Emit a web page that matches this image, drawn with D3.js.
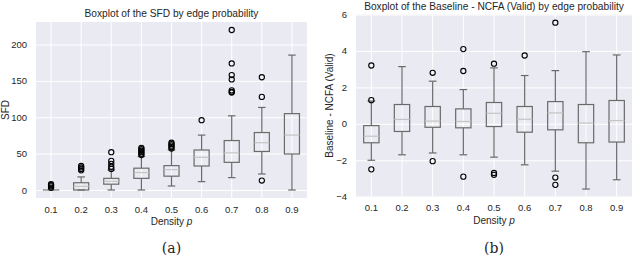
<!DOCTYPE html>
<html>
<head>
<meta charset="utf-8">
<script src="https://cdn.jsdelivr.net/npm/d3@7"></script>
<style>
  body { margin: 0; background: #fff; }
  svg text { font-family: "Liberation Sans", Arial, sans-serif; fill: #262626; }
</style>
</head>
<body>
<div id="graph"></div>
<script>
// edge probabilities (x categories)
const densities = ['0.1', '0.2', '0.3', '0.4', '0.5', '0.6', '0.7', '0.8', '0.9'];

// (a) SFD box stats
const sfdLo  = [0, 0, 0, 0, 5.5, 11.5, 17, 22, 0];
const sfdQ1  = [0, 0, 8, 16, 19, 33, 38, 53, 49.5];
const sfdMed = [0, 5, 12, 24, 28, 45, 51, 65, 75.5];
const sfdQ3  = [0.3, 10, 16, 30, 33.5, 55, 68, 79, 105];
const sfdHi  = [0, 18, 27.5, 46, 55, 75.5, 102, 113.5, 185.5];
const sfdOut = [
  [3, 5, 6.5, 8],
  [27, 29, 31, 33],
  [29, 32, 36, 40, 52],
  [48, 50, 52, 54, 56, 58],
  [57, 59, 61, 63, 65],
  [96],
  [134, 135, 137, 152, 158, 174, 220],
  [13, 128, 155],
  []
];
const sfdTicks = [0, 50, 100, 150, 200];

// (b) Baseline - NCFA (Valid) box stats
const difLo  = [-2.0, -1.7, -1.6, -1.7, -1.83, -2.25, -2.6, -3.58, -3.07];
const difQ1  = [-1.04, -0.42, -0.19, -0.22, -0.15, -0.46, -0.33, -1.04, -1.0];
const difMed = [-0.68, 0.24, 0.15, 0.13, 0.58, 0.25, 0.6, 0.04, 0.18];
const difQ3  = [-0.1, 1.06, 0.95, 0.82, 1.17, 0.95, 1.22, 1.06, 1.28];
const difHi  = [1.25, 3.14, 2.34, 1.88, 3.07, 2.65, 2.92, 3.96, 3.78];
const difOut = [
  [3.2, 1.3, -2.5],
  [],
  [2.8, -2.05],
  [4.1, 2.9, -2.9],
  [3.3, -2.7, -2.8],
  [3.75],
  [5.55, -2.95, -3.35],
  [],
  []
];
const difTicks = [-4, -2, 0, 2, 4, 6];

const svg = d3.select('#graph')
  .append('svg')
    .attr('width', 640)
    .attr('height', 274);

function panel(opt) {
  const x = d3.scaleBand()
    .domain(densities)
    .range([opt.left, opt.right]);

  const y = d3.scaleLinear()
    .domain(opt.domain)
    .range([opt.bottom, opt.top]);

  const g = svg.append('g');

  g.append('rect')
    .attr('x', opt.left)
    .attr('y', opt.top)
    .attr('width', opt.right - opt.left)
    .attr('height', opt.bottom - opt.top)
    .attr('fill', '#eaeaf2');

  // grid
  const gy = g.append('g')
    .attr('transform', `translate(${opt.left},0)`)
    .call(d3.axisLeft(y).tickValues(opt.ticks).tickSize(-(opt.right - opt.left)).tickFormat(''));
  const gx = g.append('g')
    .attr('transform', `translate(0,${opt.bottom})`)
    .call(d3.axisBottom(x).tickSize(-(opt.bottom - opt.top)).tickFormat(''));
  [gy, gx].forEach(a => {
    a.select('.domain').remove();
    a.selectAll('line').attr('stroke', '#fff').attr('stroke-width', 1);
  });

  // tick labels
  const ly = g.append('g')
    .attr('transform', `translate(${opt.left},0)`)
    .call(d3.axisLeft(y).tickValues(opt.ticks).tickSize(0).tickPadding(9));
  const lx = g.append('g')
    .attr('transform', `translate(0,${opt.bottom})`)
    .call(d3.axisBottom(x).tickSize(0).tickPadding(8));
  [ly, lx].forEach(a => {
    a.select('.domain').remove();
    a.selectAll('text').attr('font-size', 9.5).attr('fill', '#262626')
      .attr('font-family', '"Liberation Sans", Arial, sans-serif');
  });

  const half = x.bandwidth() * 0.25;
  const cap = x.bandwidth() * 0.125;
  const stroke = '#6a6a6a';

  const boxes = g.selectAll('.box')
    .data(densities.map((d, i) => ({
      d: d, lo: opt.lo[i], q1: opt.q1[i], med: opt.med[i],
      q3: opt.q3[i], hi: opt.hi[i], out: opt.out[i]
    })))
    .enter()
      .append('g')
      .attr('transform', (b) => `translate(${x(b.d) + x.bandwidth() / 2},0)`);

  // whiskers
  boxes.append('line')
    .attr('y1', (b) => y(b.q3)).attr('y2', (b) => y(b.hi))
    .attr('stroke', stroke).attr('stroke-width', 1.2);
  boxes.append('line')
    .attr('y1', (b) => y(b.q1)).attr('y2', (b) => y(b.lo))
    .attr('stroke', stroke).attr('stroke-width', 1.2);
  boxes.append('line')
    .attr('x1', -cap).attr('x2', cap)
    .attr('y1', (b) => y(b.hi)).attr('y2', (b) => y(b.hi))
    .attr('stroke', stroke).attr('stroke-width', 1.2);
  boxes.append('line')
    .attr('x1', -cap).attr('x2', cap)
    .attr('y1', (b) => y(b.lo)).attr('y2', (b) => y(b.lo))
    .attr('stroke', stroke).attr('stroke-width', 1.2);

  // box
  boxes.append('rect')
    .attr('x', -half)
    .attr('width', half * 2)
    .attr('y', (b) => y(b.q3))
    .attr('height', (b) => Math.max(0, y(b.q1) - y(b.q3)))
    .attr('fill', 'none')
    .attr('stroke', stroke).attr('stroke-width', 1.2);

  // median
  boxes.append('line')
    .attr('x1', -half).attr('x2', half)
    .attr('y1', (b) => y(b.med)).attr('y2', (b) => y(b.med))
    .attr('stroke', '#c4c4c4').attr('stroke-width', 1.2);

  // outliers
  boxes.selectAll('circle')
    .data((b) => b.out)
    .enter()
      .append('circle')
      .attr('cx', 0)
      .attr('cy', (v) => y(v))
      .attr('r', 2.6)
      .attr('fill', 'none')
      .attr('stroke', '#000')
      .attr('stroke-width', 1.1);

  const cx = (opt.left + opt.right) / 2;
  g.append('text')
    .attr('x', cx).attr('y', opt.top - 5)
    .attr('text-anchor', 'middle')
    .attr('font-size', 10.2)
    .text(opt.title);

  const xl = g.append('text')
    .attr('x', cx).attr('y', opt.bottom + 27)
    .attr('text-anchor', 'middle')
    .attr('font-size', 10)
    .text('Density ');
  xl.append('tspan').attr('font-style', 'italic').text('p');

  g.append('text')
    .attr('transform', `translate(${opt.ylabelX},${(opt.top + opt.bottom) / 2}) rotate(-90)`)
    .attr('text-anchor', 'middle')
    .attr('font-size', 10)
    .text(opt.ylabel);

  g.append('text')
    .attr('x', cx).attr('y', 253)
    .attr('text-anchor', 'middle')
    .attr('font-size', 14)
    .style('font-family', '"DejaVu Serif", "Liberation Serif", serif')
    .text(opt.caption);
}

panel({
  left: 36, right: 307, top: 22, bottom: 198,
  domain: [-11, 231], ticks: sfdTicks,
  lo: sfdLo, q1: sfdQ1, med: sfdMed, q3: sfdQ3, hi: sfdHi, out: sfdOut,
  title: 'Boxplot of the SFD by edge probability',
  ylabel: 'SFD', ylabelX: 9, caption: '(a)'
});

panel({
  left: 356, right: 632, top: 14.5, bottom: 196.7,
  domain: [-4, 6], ticks: difTicks,
  lo: difLo, q1: difQ1, med: difMed, q3: difQ3, hi: difHi, out: difOut,
  title: 'Boxplot of the Baseline - NCFA (Valid) by edge probability',
  ylabel: 'Baseline - NCFA (Valid)', ylabelX: 333, caption: '(b)'
});
</script>
</body>
</html>
